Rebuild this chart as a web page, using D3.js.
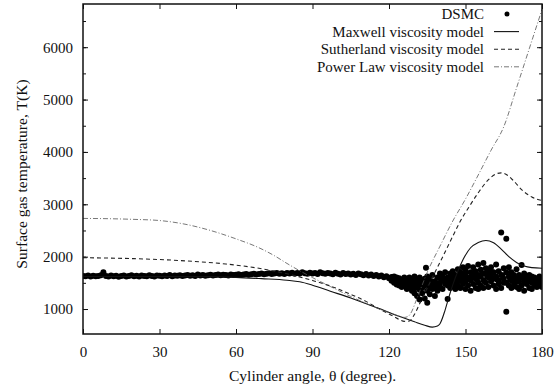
<!DOCTYPE html>
<html>
<head>
<meta charset="utf-8">
<script src="https://cdn.jsdelivr.net/npm/d3@7"></script>
<style>
  body { margin: 0; background: #fff; }
  svg text { font-family: "Liberation Serif", "Times New Roman", Times, "DejaVu Serif", serif; fill: #111; }
</style>
</head>
<body>
<svg id="chart" width="556" height="389"></svg>
<script>
// ---- data ----
const xTicks = [0, 30, 60, 90, 120, 150, 180]
const yTicks = [1000, 2000, 3000, 4000, 5000, 6000]
const yMinorTicks = [1000, 1500, 2000, 2500, 3000, 3500, 4000, 4500, 5000, 5500, 6000, 6500]

const legendNames = ['DSMC', 'Maxwell viscosity model', 'Sutherland viscosity model', 'Power Law viscosity model']

const maxwellAngle = [0, 30, 50, 60, 70, 80, 85, 90, 97, 105, 110, 117, 124, 130, 134, 137, 139, 140, 142, 143.5, 145, 147, 149, 152, 155, 158, 161, 164, 167, 170, 173, 176, 180]
const maxwellT = [1620, 1620, 1618, 1605, 1580, 1550, 1520, 1455, 1340, 1210, 1120, 995, 860, 755, 690, 655, 675, 720, 980, 1230, 1460, 1720, 1940, 2170, 2270, 2310, 2265, 2145, 2000, 1890, 1820, 1790, 1778]

const sutherlandAngle = [0, 20, 40, 56, 70, 82, 90, 97, 105, 110, 117, 122, 124, 126, 128, 130, 132, 134, 137, 141, 145, 148, 151, 155, 159, 162, 164, 166, 169, 172, 176, 180]
const sutherlandT = [1980, 1962, 1920, 1860, 1770, 1650, 1545, 1440, 1280, 1170, 980, 855, 800, 765, 770, 900, 1100, 1300, 1600, 1990, 2390, 2680, 2920, 3220, 3470, 3580, 3600, 3570, 3440, 3280, 3140, 3070]

const powerAngle = [0, 10, 20, 30, 40, 50, 60, 69, 75, 80, 85, 90, 97, 105, 110, 117, 122, 126, 127.5, 129, 130, 132, 135, 140, 145, 150, 155, 160, 165, 170, 175, 180]
const powerT = [2730, 2725, 2712, 2690, 2620, 2500, 2340, 2170, 2020, 1870, 1730, 1600, 1430, 1240, 1130, 985, 900, 840, 860, 960, 1080, 1330, 1700, 2200, 2680, 3100, 3560, 4030, 4480, 5220, 5970, 6720]

const dsmcAngle = [
  0, 1, 2, 3, 4, 5, 6, 7, 8, 9, 10, 11, 12, 13, 14, 15, 16, 17, 18, 19,
  20, 21, 22, 23, 24, 25, 26, 27, 28, 29, 30, 31, 32, 33, 34, 35, 36, 37, 38, 39,
  40, 41, 42, 43, 44, 45, 46, 47, 48, 49, 50, 51, 52, 53, 54, 55, 56, 57, 58, 59,
  60, 61, 62, 63, 64, 65, 66, 67, 68, 69, 70, 71, 72, 73, 74, 75, 76, 77, 78, 79,
  80, 81, 82, 83, 84, 85, 86, 87, 88, 89, 90, 91, 92, 93, 94, 95, 96, 97, 98, 99,
  100, 101, 102, 103, 104, 105, 106, 107, 108, 109, 110, 111, 112, 113, 114, 115, 116, 117, 118, 119, 120,
  121, 121, 121, 122, 122, 122, 123, 123, 123, 124, 124, 124, 125, 125, 125,
  126, 126, 126, 127, 127, 127, 128, 128, 128, 129, 129, 129, 130, 130, 130, 130,
  131, 131, 131, 132, 132, 132, 132, 133, 133, 133, 134, 134, 134, 134.5, 135, 135, 135, 135,
  136, 136, 136, 137, 137, 137, 138, 138, 138, 139, 139, 139, 140, 140, 140,
  141, 141, 141, 142, 142, 142, 143, 143, 143, 144, 144, 144, 145, 145, 145,
  146, 146, 146, 147, 147, 147, 148, 148, 148, 149, 149, 149, 150, 150, 150, 150,
  151, 151, 151, 152, 152, 152, 153, 153, 153, 154, 154, 154, 155, 155, 155, 155,
  156, 156, 156, 157, 157, 157, 158, 158, 158, 159, 159, 159, 160, 160, 160,
  161, 161, 161, 162, 162, 162, 163, 163, 163, 164, 164, 164, 165, 165, 165,
  166, 166, 166, 166, 167, 167, 167, 168, 168, 168, 169, 169, 169, 170, 170, 170,
  171, 171, 171, 172, 172, 172, 173, 173, 173, 174, 174, 174, 175, 175, 175,
  176, 176, 176, 177, 177, 177, 178, 178, 178, 179, 179, 179, 180, 180, 180,
  122.5, 124.5, 126.5, 128.5, 131.5, 133.5, 136.5, 138.5, 140.5, 142.5, 144.5, 146.5, 148.5,
  150.5, 152.5, 154.5, 156.5, 158.5, 160.5, 162.5, 164.5, 167.5, 169.5, 171.5, 173.5, 175.5, 177.5, 179.5
]
const dsmcT = [
  1630, 1625, 1640, 1620, 1635, 1625, 1630, 1645, 1700, 1630, 1620, 1640, 1625, 1635, 1615, 1630, 1640, 1620, 1630, 1645,
  1625, 1635, 1620, 1640, 1630, 1625, 1645, 1630, 1620, 1640, 1635, 1625, 1640, 1630, 1650, 1625, 1640, 1635, 1645, 1630,
  1640, 1650, 1635, 1645, 1630, 1660, 1640, 1650, 1635, 1645, 1655, 1640, 1650, 1660, 1645, 1655, 1650, 1640, 1660, 1650,
  1655, 1665, 1650, 1660, 1670, 1655, 1665, 1675, 1660, 1670, 1680, 1665, 1675, 1685, 1670, 1680, 1690, 1675, 1685, 1670,
  1690, 1680, 1695, 1675, 1690, 1680, 1700, 1685, 1675, 1695, 1680, 1690, 1670, 1700, 1685, 1675, 1690, 1680, 1665, 1695,
  1675, 1660, 1690, 1670, 1680, 1660, 1675, 1650, 1680, 1665, 1645, 1670, 1640, 1660, 1630, 1650, 1620, 1640, 1605, 1625, 1590,
  1610, 1540, 1570, 1580, 1500, 1620, 1550, 1470, 1600, 1520, 1590, 1450, 1560, 1480, 1420,
  1500, 1600, 1440, 1470, 1550, 1380, 1530, 1420, 1600, 1450, 1560, 1350, 1500, 1390, 1620, 1300,
  1430, 1550, 1250, 1480, 1370, 1600, 1180, 1520, 1400, 1300, 1450, 1580, 1200, 1790, 1500, 1350, 1620, 1120,
  1420, 1560, 1280, 1480, 1380, 1650, 1530, 1400, 1250, 1450, 1600, 1350, 1500, 1680, 1420,
  1560, 1380, 1620, 1480, 1700, 1550, 1600, 1190, 1450, 1520, 1680, 1400, 1580, 1720, 1460,
  1500, 1650, 1380, 1620, 1760, 1450, 1540, 1700, 1400, 1600, 1800, 1480, 1520, 1680, 1380, 1750,
  1600, 1450, 1820, 1550, 1700, 1350, 1650, 1480, 1800, 1580, 1720, 1400, 1500, 1650, 1850, 1380,
  1620, 1750, 1450, 1550, 1880, 1400, 1680, 1500, 1780, 1600, 1420, 1720, 1530, 1800, 1650,
  1450, 1700, 1580, 1620, 1850, 1380, 1550, 1720, 1480, 1650, 2460, 1400, 1580, 1780, 1500,
  1500, 2340, 950, 1700, 1620, 1450, 1800, 1550, 1700, 1400, 1480, 1650, 1600, 1580, 1760, 1420,
  1520, 1650, 1380, 1600, 1840, 1450, 1540, 1680, 1350, 1480, 1620, 1560, 1580, 1400, 1650,
  1500, 1620, 1380, 1560, 1450, 1600, 1480, 1580, 1420, 1540, 1450, 1620, 1500, 1580, 1420,
  1530, 1490, 1520, 1470, 1510, 1460, 1520, 1490, 1560, 1500, 1620, 1560, 1640,
  1590, 1620, 1560, 1680, 1620, 1700, 1560, 1640, 1560, 1520, 1600, 1520, 1560, 1480, 1500
]

// ---- layout ----
const svg = d3.select('#chart')
const plotLeft = 83
const plotRight = 542
const plotTop = 4
const plotBottom = 334

const x = d3.scaleLinear().domain([0, 180]).range([plotLeft, plotRight])
const y = d3.scaleLinear().domain([523, 6825]).range([plotBottom, plotTop])

const fontSize = 15
const titleSize = 15.6

// ticks, inward, mirrored on the opposite side
const tickAxis = (axis, scale, values, size, pad, fmt) =>
  axis(scale).tickValues(values).tickSize(-size).tickPadding(pad).tickFormat(fmt)

const drawAxis = (gen, tx, ty) => {
  const g = svg.append('g').attr('transform', `translate(${tx},${ty})`).call(gen)
  g.select('.domain').remove()
  g.attr('font-family', null).attr('font-size', null)
  g.selectAll('line').attr('stroke', '#111').attr('stroke-width', 1)
  g.selectAll('text').style('font-size', fontSize + 'px').attr('fill', '#111')
  return g
}

drawAxis(tickAxis(d3.axisBottom, x, xTicks, 5, 12, d3.format('d')), 0, plotBottom)
drawAxis(tickAxis(d3.axisTop, x, xTicks, 5, 3, ''), 0, plotTop)
drawAxis(tickAxis(d3.axisLeft, y, yTicks, 5, 10, d3.format('d')), plotLeft, 0)
drawAxis(tickAxis(d3.axisRight, y, yTicks, 5, 3, ''), plotRight, 0)
drawAxis(tickAxis(d3.axisLeft, y, yMinorTicks, 3, 3, ''), plotLeft, 0)
drawAxis(tickAxis(d3.axisRight, y, yMinorTicks, 3, 3, ''), plotRight, 0)

// clip for the curves
svg.append('clipPath').attr('id', 'plot')
  .append('rect').attr('x', plotLeft).attr('y', plotTop).attr('width', plotRight - plotLeft).attr('height', plotBottom - plotTop)

const line = d3.line()
  .x(d => x(d[0]))
  .y(d => y(d[1]))
  .curve(d3.curveMonotoneX)

const curves = [
  { a: maxwellAngle, t: maxwellT, dash: null, color: '#111', w: 1.1 },
  { a: sutherlandAngle, t: sutherlandT, dash: '4,3', color: '#222', w: 1.1 },
  { a: powerAngle, t: powerT, dash: '5,2,1,2', color: '#555', w: 0.8 }
]

const plot = svg.append('g').attr('clip-path', 'url(#plot)')

// DSMC points
plot.selectAll('circle')
  .data(d3.zip(dsmcAngle, dsmcT))
  .enter()
  .append('circle')
  .attr('cx', d => x(d[0]))
  .attr('cy', d => y(d[1]))
  .attr('r', 3)
  .attr('fill', '#000')

curves.forEach(c => {
  plot.append('path')
    .attr('d', line(d3.zip(c.a, c.t)))
    .attr('fill', 'none')
    .attr('stroke', c.color)
    .attr('stroke-width', c.w)
    .attr('stroke-dasharray', c.dash)
})

// frame
svg.append('rect')
  .attr('x', plotLeft).attr('y', plotTop)
  .attr('width', plotRight - plotLeft).attr('height', plotBottom - plotTop)
  .attr('fill', 'none')
  .attr('stroke', '#111')
  .attr('stroke-width', 1.5)

// legend
const legend = svg.append('g')
legendNames.forEach((name, i) => {
  const cy = 14 + i * 17.6
  legend.append('text')
    .attr('x', 484).attr('y', cy + 5)
    .attr('text-anchor', 'end')
    .style('font-size', fontSize + 'px')
    .text(name)
  if (i === 0) {
    legend.append('circle').attr('cx', 507).attr('cy', cy).attr('r', 2.5).attr('fill', '#000')
  } else {
    const c = curves[i - 1]
    legend.append('line')
      .attr('x1', 494).attr('x2', 519).attr('y1', cy).attr('y2', cy)
      .attr('stroke', c.color).attr('stroke-width', c.w)
      .attr('stroke-dasharray', c.dash)
  }
})

// axis titles
svg.append('text')
  .attr('x', (plotLeft + plotRight) / 2).attr('y', 381)
  .attr('text-anchor', 'middle')
  .style('font-size', titleSize + 'px')
  .text('Cylinder angle, θ (degree).')

svg.append('text')
  .attr('transform', 'translate(27,174) rotate(-90)')
  .attr('text-anchor', 'middle')
  .style('font-size', titleSize + 'px')
  .text('Surface gas temperature, T(K)')
</script>
</body>
</html>
